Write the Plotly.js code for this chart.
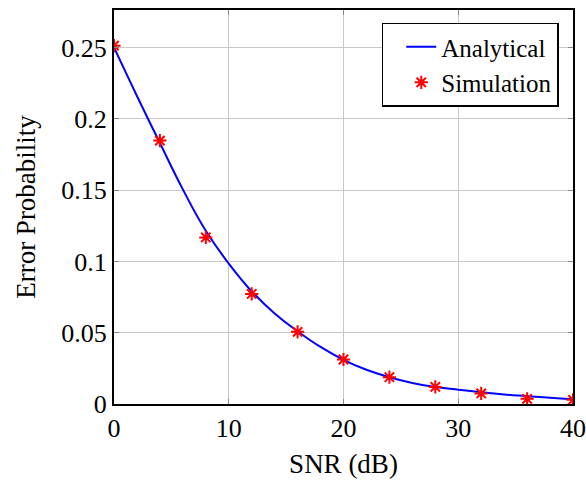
<!DOCTYPE html>
<html>
<head>
<meta charset="utf-8">
<script src="https://cdn.plot.ly/plotly-3.0.1.min.js"></script>
<style>html,body{margin:0;padding:0;background:#fff;}#chart{width:586px;height:481px;}</style>
</head>
<body>
<div id="chart"></div>
<script>
// Analytical curve
const snrAnalytical = [0, 2, 4, 6, 8, 10, 12, 14, 16, 18, 20, 22, 24, 26, 28, 30, 32, 34, 36, 38, 40];
const probAnalytical = [0.250, 0.216, 0.183, 0.1505, 0.1215, 0.0985, 0.0790, 0.0635, 0.0510, 0.0400, 0.0310, 0.0240, 0.0188, 0.0148, 0.0120, 0.0100, 0.0083, 0.0067, 0.0055, 0.0043, 0.0034];
// Simulation points
const snrSim = [0, 4, 8, 12, 16, 20, 24, 28, 32, 36, 40];
const probSim = [0.2513, 0.1847, 0.1168, 0.0772, 0.0506, 0.0312, 0.0188, 0.0120, 0.0074, 0.0036, 0.0029];
const xTicks = [0, 10, 20, 30, 40];
const yTicks = [0, 0.05, 0.1, 0.15, 0.2, 0.25];
const yTickText = ['0', '0.05', '0.1', '0.15', '0.2', '0.25'];

const fam = 'Liberation Serif, DejaVu Serif, serif';
const tickFont = {family: fam, size: 26, color: '#000'};
const titleFont = {family: fam, size: 27, color: '#000'};

const traces = [
  {x: snrAnalytical, y: probAnalytical, mode: 'lines', name: 'Analytical',
   line: {color: '#0000ff', width: 2, shape: 'spline', smoothing: 1.3}},
  {x: snrSim, y: probSim, mode: 'markers', name: 'Simulation',
   marker: {symbol: 'asterisk-open', size: 11, color: '#ff0000', line: {color: '#ff0000', width: 2}}}
];

const layout = {
  width: 586, height: 481,
  margin: {l: 114, r: 13, t: 10, b: 77},
  paper_bgcolor: '#fff', plot_bgcolor: '#fff',
  font: tickFont,
  showlegend: true,
  legend: {x: 0.969, y: 0.968, xanchor: 'right', yanchor: 'top',
           bgcolor: '#fff', bordercolor: '#000', borderwidth: 1.5,
           indentation: 18,
           font: {family: fam, size: 25, color: '#000'}, tracegroupgap: 0},
  xaxis: {
    range: [0, 40], tickvals: xTicks, ticktext: xTicks.map(String),
    showgrid: true, gridcolor: '#c8c8c8', gridwidth: 1,
    zeroline: false, showline: true, linecolor: '#000', linewidth: 2, mirror: 'ticks',
    ticks: 'inside', ticklen: 5, tickcolor: '#888', tickwidth: 1,
    tickfont: tickFont,
    title: {text: 'SNR (dB)', font: titleFont, standoff: 12}
  },
  yaxis: {
    range: [0, 0.2763], tickvals: yTicks, ticktext: yTickText,
    showgrid: true, gridcolor: '#c8c8c8', gridwidth: 1,
    zeroline: false, showline: true, linecolor: '#000', linewidth: 2, mirror: 'ticks',
    ticks: 'inside', ticklen: 5, tickcolor: '#888', tickwidth: 1,
    tickfont: tickFont,
    title: {text: 'Error Probability', font: titleFont, standoff: 18}
  }
};

Plotly.newPlot('chart', traces, layout, {displayModeBar: false, staticPlot: true});
</script>
</body>
</html>
